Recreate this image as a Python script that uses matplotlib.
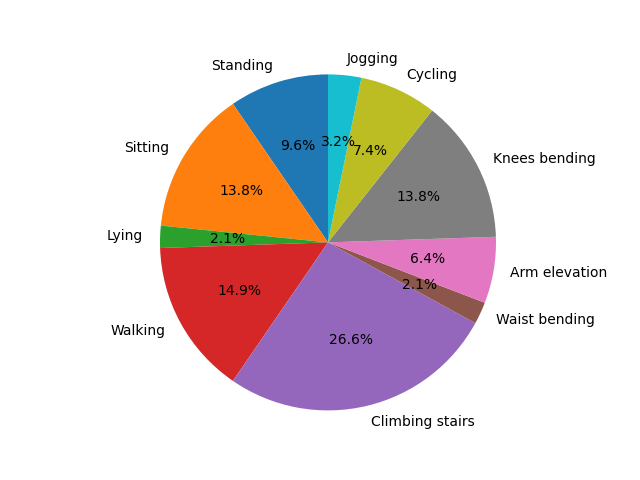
import matplotlib
matplotlib.use('Agg')
import matplotlib.pyplot as plt

labels = ['Standing', 'Sitting', 'Lying', 'Walking', 'Climbing stairs',
          'Waist bending', 'Arm elevation', 'Knees bending', 'Cycling', 'Jogging']
counts = [9, 13, 2, 14, 25, 2, 6, 13, 7, 3]

fig, ax = plt.subplots(figsize=(6.4, 4.8), dpi=100)
ax.pie(counts, labels=labels, autopct='%1.1f%%', startangle=90)
ax.axis('equal')
plt.savefig('out.png')
